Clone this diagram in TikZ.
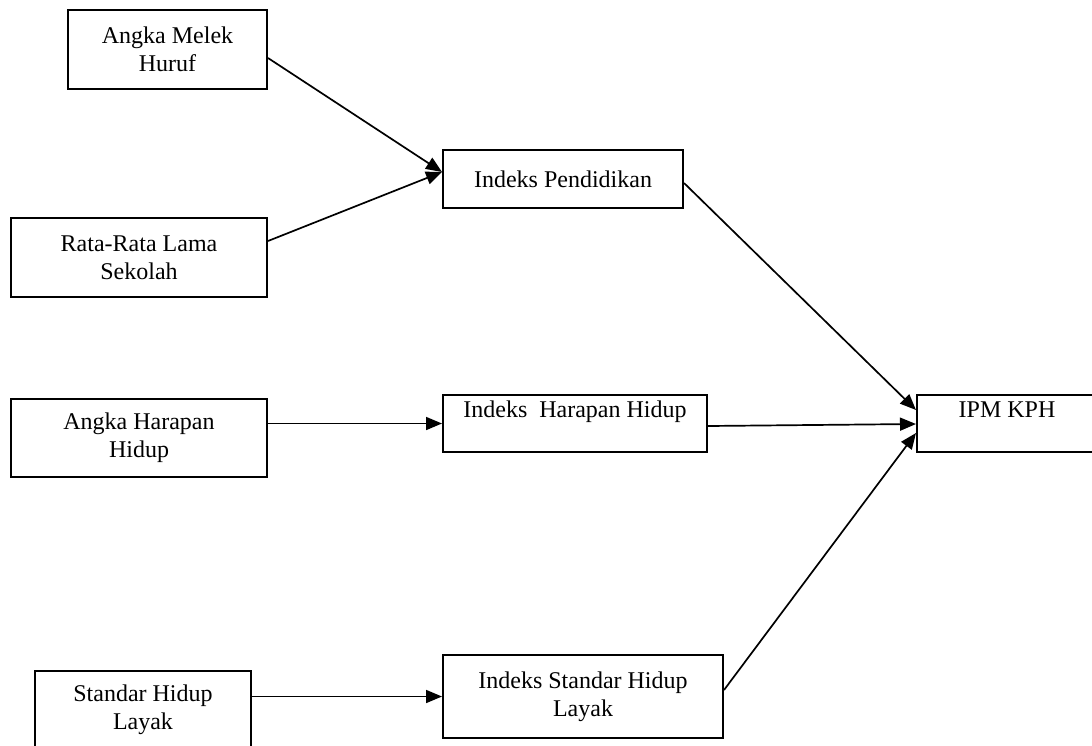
\documentclass[tikz,border=0pt]{standalone}
\usepackage{fontspec}
\setmainfont{Liberation Serif}
\usetikzlibrary{arrows.meta}
\begin{document}
\begin{tikzpicture}[x=1pt,y=-1pt,
  box/.style={draw, line width=2pt, rectangle, align=center, inner sep=0pt,
    font=\fontsize{24}{28}\selectfont},
  conn/.style={line width=1.7pt, -{Triangle[length=16pt,width=13pt]}}]
\useasboundingbox (0,0) rectangle (1092,745);
\fill[white] (0,0) rectangle (1092,745);

\node[box, minimum width=199pt, minimum height=79pt] (a1) at (167.5,49.5) {Angka Melek\\Huruf};
\node[box, minimum width=256pt, minimum height=79pt] (a2) at (139,257.5) {Rata-Rata Lama\\Sekolah};
\node[box, minimum width=240pt, minimum height=58pt] (a3) at (563,179) {Indeks Pendidikan};
\node[box, minimum width=256pt, minimum height=78pt] (a4) at (139,438) {Angka Harapan\\Hidup};
\node[box, minimum width=264pt, minimum height=57pt] (a5) at (575,423.5) {Indeks~~Harapan Hidup\\~};
\node[box, minimum width=180pt, minimum height=57pt] (a6) at (1007,423.5) {IPM KPH\\~};
\node[box, minimum width=216pt, minimum height=78pt] (a7) at (143,710) {Standar Hidup\\Layak};
\node[box, minimum width=280pt, minimum height=83pt] (a8) at (583,696.5) {Indeks Standar Hidup\\Layak};

\coordinate (p3in) at ([yshift=7pt]a3.west);
\draw[conn] ([yshift=-8.5pt]a1.east) -- (p3in);
\draw[conn] ([yshift=16.5pt]a2.east) -- (p3in);
\draw[conn] ([yshift=-4pt]a3.east) -- ([yshift=13.5pt]a6.west);
\draw[conn] (a5.west -| a4.east) -- (a5.west);
\draw[conn] ([yshift=-2.5pt]a5.east) -- ([yshift=-0.5pt]a6.west);
\draw[conn] (a8.west -| a7.east) -- (a8.west);
\draw[conn] ([yshift=6.5pt]a8.east) -- ([yshift=-9.5pt]a6.west);
\end{tikzpicture}
\end{document}
